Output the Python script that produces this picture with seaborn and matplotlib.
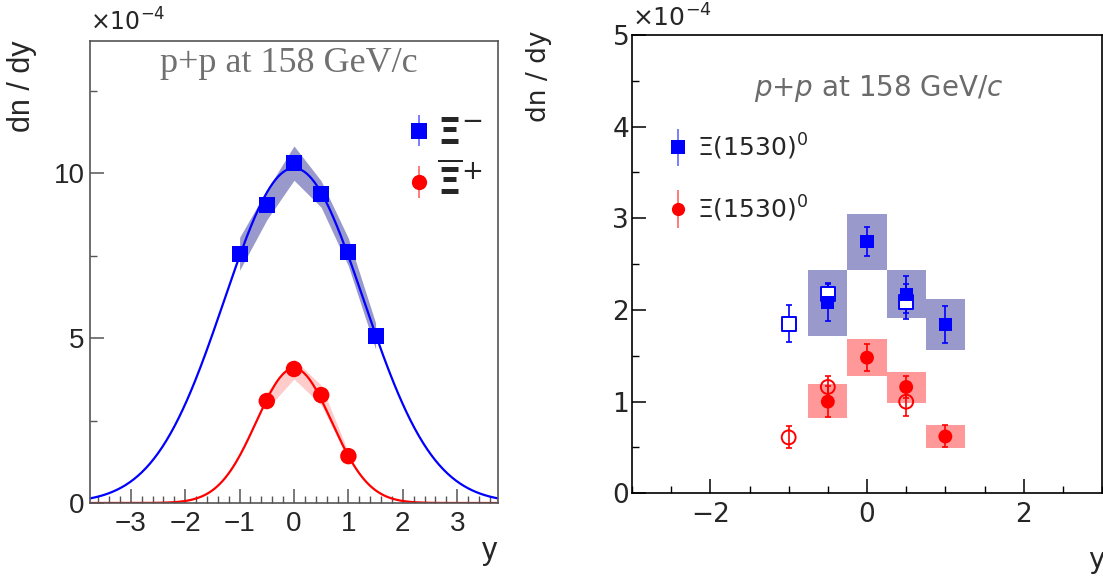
#%%
# Xi and Xi(1530) rapidity spectra in p+p at 158 GeV/c, two panels

import numpy as np
import pandas as pd
import matplotlib
matplotlib.use("Agg")
from matplotlib import pyplot as plt
from matplotlib.ticker import MultipleLocator
from matplotlib.legend_handler import HandlerErrorbar
import seaborn as sns

# left panel: Xi- and anti-Xi+ (units of 1e-4)
y_xi = [-1.0, -0.5, 0.0, 0.5, 1.0, 1.5]
xi_minus = [7.55, 9.03, 10.3, 9.36, 7.6, 5.06]
xi_minus_sys = [0.5, 0.45, 0.52, 0.4, 0.42, 0.4]
y_axi = [-0.5, 0.0, 0.5, 1.0]
axi_plus = [3.09, 4.06, 3.27, 1.42]
axi_plus_sys = [0.25, 0.3, 0.3, 0.12]
# gaussian fit parameters (amplitude, width)
fit_xi_minus = (10.15, 1.28)
fit_axi_plus = (4.08, 0.69)

# right panel: Xi(1530)0 and anti-Xi(1530)0 (units of 1e-4)
y_star = [-0.5, 0.0, 0.5, 1.0]
xi_star = [2.08, 2.75, 2.17, 1.84]
xi_star_stat = [0.2, 0.16, 0.2, 0.2]
xi_star_sys_lo = [1.72, 2.44, 1.91, 1.56]
xi_star_sys_hi = [2.44, 3.05, 2.44, 2.12]
axi_star = [1.0, 1.48, 1.16, 0.62]
axi_star_stat = [0.17, 0.15, 0.12, 0.12]
axi_star_sys_lo = [0.82, 1.28, 0.99, 0.49]
axi_star_sys_hi = [1.19, 1.68, 1.32, 0.74]
# reflected points (open markers)
y_refl = [-1.0, -0.5, 0.5]
xi_star_refl = [1.85, 2.17, 2.09]
xi_star_refl_stat = [0.2, 0.12, 0.19]
axi_star_refl = [0.61, 1.16, 1.0]
axi_star_refl_stat = [0.12, 0.12, 0.16]

sns.set_style("white")
plt.rcParams['font.family'] = ['Liberation Sans', 'DejaVu Sans']
plt.rcParams['mathtext.fontset'] = 'dejavusans'

W, H = 1103, 581
fig = plt.figure(figsize=(W / 100, H / 100), dpi=100)

def box(x0, y0, x1, y1):
    # pixel box (top-left origin) to figure fraction rect
    return [x0 / W, 1 - y1 / H, (x1 - x0) / W, (y1 - y0) / H]

BLUE = '#0000ff'
RED = '#ff0000'

#%%
# left panel
ax1 = fig.add_axes(box(90, 41, 498, 503))

left = pd.DataFrame({'y': y_xi, 'dndy': xi_minus, 'sys': xi_minus_sys})
left_a = pd.DataFrame({'y': y_axi, 'dndy': axi_plus, 'sys': axi_plus_sys})

ax1.fill_between(left['y'], left['dndy'] - left['sys'], left['dndy'] + left['sys'],
                 color='#9999cc', lw=0, zorder=1)
ax1.fill_between(left_a['y'], left_a['dndy'] - left_a['sys'], left_a['dndy'] + left_a['sys'],
                 color='#ffcccc', lw=0, zorder=1)

yy = np.linspace(-3.75, 3.75, 300)
curves = pd.DataFrame({
    'y': np.concatenate([yy, yy]),
    'f': np.concatenate([fit_axi_plus[0] * np.exp(-yy ** 2 / (2 * fit_axi_plus[1] ** 2)),
                         fit_xi_minus[0] * np.exp(-yy ** 2 / (2 * fit_xi_minus[1] ** 2))]),
    'which': ['axi'] * len(yy) + ['xi'] * len(yy),
})
sns.lineplot(data=curves, x='y', y='f', hue='which', palette={'axi': RED, 'xi': BLUE},
             lw=1.6, legend=False, ax=ax1, zorder=2)

sns.scatterplot(data=left, x='y', y='dndy', marker='s', s=130, color=BLUE,
                edgecolor='none', ax=ax1, zorder=3)
sns.scatterplot(data=left_a, x='y', y='dndy', marker='o', s=140, color=RED,
                edgecolor='none', ax=ax1, zorder=3)

# legend proxies
h1 = ax1.errorbar([np.nan], [np.nan], yerr=[1], fmt='s', color=BLUE, ms=11, mew=0,
                  ecolor='#6666ff', elinewidth=1.2)
h2 = ax1.errorbar([np.nan], [np.nan], yerr=[1], fmt='o', color=RED, ms=11, mew=0,
                  ecolor='#ff6666', elinewidth=1.2)
ax1.legend([h1, h2], [r'$\mathbf{\Xi}^{-}$', r'$\overline{\mathbf{\Xi}}^{+}$'], loc='upper left',
           bbox_to_anchor=(0.782, 0.838), frameon=False, fontsize=27,
           handlelength=0.55, handletextpad=0.2, labelspacing=0.29,
           borderpad=0, borderaxespad=0,
           handler_map={h1: HandlerErrorbar(yerr_size=0.42), h2: HandlerErrorbar(yerr_size=0.42)})

ax1.set_xlim(-3.75, 3.75)
ax1.set_ylim(0, 14)
ax1.xaxis.set_major_locator(MultipleLocator(1))
ax1.xaxis.set_minor_locator(MultipleLocator(0.2))
ax1.yaxis.set_major_locator(MultipleLocator(5))
ax1.yaxis.set_minor_locator(MultipleLocator(2.5))
ax1.tick_params(which='both', direction='in', top=False, right=False,
                color='#555555', labelsize=20, bottom=True, left=True)
ax1.tick_params(which='major', length=10, width=1.1)
ax1.tick_params(which='minor', length=5, width=1.0)
ax1.tick_params(axis='x', pad=6)
ax1.tick_params(axis='y', pad=4)
for s in ax1.spines.values():
    s.set_color('#555555')
    s.set_linewidth(1.2)
ax1.set_xlabel('')
ax1.set_ylabel('')

ax1.text(0.487, 0.952, 'p+p at 158 GeV/c', transform=ax1.transAxes, ha='center', va='center',
         fontsize=26, color='#707070', family='Liberation Serif')
fig.text(90 / W, 1 - 22 / H, r'$\times10^{-4}$', fontsize=17, ha='left', va='center')
fig.text(22 / W, 1 - 40 / H, 'dn / dy', rotation=90, fontsize=22, ha='center', va='top')
fig.text(490 / W, 1 - 551 / H, 'y', fontsize=22, ha='center', va='center')

#%%
# right panel
ax2 = fig.add_axes(box(632, 35, 1102, 493.3))

ax2.bar(y_star, np.subtract(xi_star_sys_hi, xi_star_sys_lo), bottom=xi_star_sys_lo,
        width=0.5, color='#9999cc', lw=0, zorder=1)
ax2.bar(y_star, np.subtract(axi_star_sys_hi, axi_star_sys_lo), bottom=axi_star_sys_lo,
        width=0.5, color='#ff9999', lw=0, zorder=1)

ax2.errorbar(y_star, xi_star, yerr=xi_star_stat, fmt='none', ecolor=BLUE, elinewidth=1.2,
             capsize=2.5, capthick=1.2, zorder=2)
ax2.errorbar(y_refl, xi_star_refl, yerr=xi_star_refl_stat, fmt='none', ecolor=BLUE,
             elinewidth=1.2, capsize=2.5, capthick=1.2, zorder=2)
ax2.errorbar(y_star, axi_star, yerr=axi_star_stat, fmt='none', ecolor=RED, elinewidth=1.2,
             capsize=2.5, capthick=1.2, zorder=2)
ax2.errorbar(y_refl, axi_star_refl, yerr=axi_star_refl_stat, fmt='none', ecolor=RED,
             elinewidth=1.2, capsize=2.5, capthick=1.2, zorder=2)

sns.scatterplot(x=y_refl, y=xi_star_refl, marker='s', s=90, facecolor='white',
                edgecolor=BLUE, linewidth=1.4, ax=ax2, zorder=3)
sns.scatterplot(x=y_refl, y=axi_star_refl, marker='o', s=100, facecolor='none',
                edgecolor=RED, linewidth=1.4, ax=ax2, zorder=3)
sns.scatterplot(x=y_star, y=xi_star, marker='s', s=90, color=BLUE, edgecolor='none',
                ax=ax2, zorder=4)
sns.scatterplot(x=y_star, y=axi_star, marker='o', s=100, color=RED, edgecolor='none',
                ax=ax2, zorder=4)

h3 = ax2.errorbar([np.nan], [np.nan], yerr=[1], fmt='s', color=BLUE, ms=9.5, mew=0,
                  ecolor='#6666ff', elinewidth=1.2)
h4 = ax2.errorbar([np.nan], [np.nan], yerr=[1], fmt='o', color=RED, ms=9.5, mew=0,
                  ecolor='#ff6666', elinewidth=1.2)
ax2.legend([h3, h4], [r'$\Xi$(1530)$^{0}$', r'$\Xi$(1530)$^{0}$'], loc='upper left',
           bbox_to_anchor=(0.079, 0.789), frameon=False,
           prop={'family': 'DejaVu Sans', 'size': 18},
           handlelength=0.7, handletextpad=0.4, labelspacing=1.27,
           borderpad=0, borderaxespad=0,
           handler_map={h3: HandlerErrorbar(yerr_size=0.75), h4: HandlerErrorbar(yerr_size=0.75)})

ax2.set_xlim(-3, 3)
ax2.set_ylim(0, 5)
ax2.xaxis.set_major_locator(MultipleLocator(2))
ax2.xaxis.set_minor_locator(MultipleLocator(0.5))
ax2.yaxis.set_major_locator(MultipleLocator(1))
ax2.yaxis.set_minor_locator(MultipleLocator(0.5))
ax2.tick_params(which='both', direction='in', top=False, right=False,
                color='black', labelsize=19, bottom=True, left=True)
ax2.tick_params(which='major', length=10, width=1.1)
ax2.tick_params(which='minor', length=5, width=1.0)
ax2.tick_params(axis='x', pad=6)
ax2.tick_params(axis='y', pad=2)
for lbl in ax2.get_xticklabels() + ax2.get_yticklabels():
    lbl.set_family('DejaVu Sans')
for s in ax2.spines.values():
    s.set_color('black')
    s.set_linewidth(1.2)
ax2.set_xlabel('')
ax2.set_ylabel('')

ax2.text(0.525, 0.884, r'$\mathit{p}$+$\mathit{p}$ at 158 GeV/$\mathit{c}$', transform=ax2.transAxes,
         ha='center', va='center', fontsize=20, color='#6b6b6b', family='DejaVu Sans')
fig.text(632 / W, 1 - 18 / H, r'$\times10^{-4}$', fontsize=18, ha='left', va='center')
fig.text(539 / W, 1 - 30 / H, 'dn / dy', rotation=90, fontsize=19, ha='center', va='top',
         family='DejaVu Sans')
fig.text(1088 / W, 1 - 560 / H, 'y', fontsize=20, ha='left', va='center', family='DejaVu Sans')

fig.savefig('out.png', dpi=100)
